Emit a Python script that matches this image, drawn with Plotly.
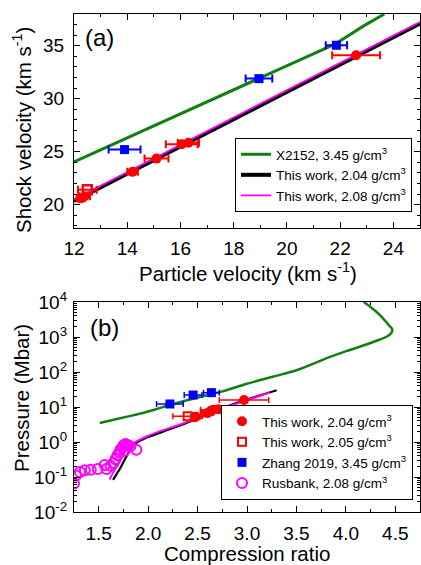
import plotly.graph_objects as go

# ---------------- Panel (a): Us - up ----------------
a_x2152_up = [12, 14, 16, 19, 21.8, 22.9, 23.66]
a_x2152_us = [24.05, 26.3, 28.6, 31.95, 35.15, 36.9, 38.0]
a_fit204_up = [12, 25]
a_fit204_us = [20.35, 37.1]
a_fit208_up = [12, 25]
a_fit208_us = [20.5, 37.25]

a_tw204_up = [12.25, 12.4, 14.2, 15.1, 16.05, 16.3, 22.6]
a_tw204_us = [20.6, 20.8, 23.1, 24.35, 25.7, 25.85, 34.1]
a_tw204_err = [0.15, 0.2, 0.2, 0.45, 0.6, 0.4, 0.9]
a_tw205_up = [12.5]
a_tw205_us = [21.4]
a_tw205_err = [0.35]
a_zhang_up = [13.9, 18.95, 21.86]
a_zhang_us = [25.2, 31.9, 35.05]
a_zhang_err = [0.6, 0.5, 0.4]

# ---------------- Panel (b): P - compression ----------------
b_x2152_eta = [1.51, 1.75, 2.0, 2.2, 2.5, 2.75, 3.0, 3.25, 3.5, 3.84, 4.01, 4.2, 4.33, 4.42,
               4.46, 4.47, 4.44, 4.35, 4.25, 4.18]
b_x2152_p = [3.5, 5.0, 7.4, 11, 18.6, 28, 46, 72, 112, 270, 400, 600, 820, 1050,
             1300, 1650, 2100, 4100, 7200, 10000]
b_fit204_eta = [1.645, 1.68, 1.713, 1.76, 1.82, 1.88, 1.95, 2.02, 2.25, 2.46, 2.66, 2.93, 3.3]
b_fit204_p = [0.083, 0.12, 0.17, 0.3, 0.6, 0.95, 1.2, 1.45, 2.5, 4.2, 7.2, 14, 30]
b_fit208_eta = [1.61, 1.65, 1.7, 1.75, 1.8, 1.86, 1.95, 2.1, 2.3, 2.5, 2.7, 2.95, 3.23]
b_fit208_p = [0.085, 0.14, 0.25, 0.45, 0.7, 0.95, 1.3, 1.95, 3.0, 4.8, 8.0, 14, 26]

b_tw204_eta = [2.47, 2.48, 2.60, 2.63, 2.66, 2.71, 2.97]
b_tw204_p = [5.1, 5.3, 6.7, 7.5, 8.4, 8.6, 15.8]
b_tw204_err = [0.04, 0.05, 0.06, 0.1, 0.13, 0.1, 0.25]
b_tw205_eta = [2.4]
b_tw205_p = [5.4]
b_tw205_err = [0.15]
b_zhang_eta = [2.22, 2.455, 2.64]
b_zhang_p = [12.2, 22, 25.7]
b_zhang_err = [0.135, 0.09, 0.08]
b_rus_eta = [1.25, 1.27, 1.31, 1.36, 1.42, 1.49, 1.56, 1.58, 1.62, 1.65, 1.67, 1.69, 1.71,
             1.72, 1.74, 1.75, 1.77, 1.78, 1.8, 1.82, 1.76, 1.88]
b_rus_p = [0.065, 0.11, 0.14, 0.155, 0.16, 0.17, 0.22, 0.17, 0.21, 0.25, 0.32, 0.42, 0.5,
           0.6, 0.7, 0.8, 0.88, 0.85, 0.8, 0.75, 0.55, 0.6]

b_ytickvals = [0.01, 0.1, 1, 10, 100, 1000, 10000]
b_yticktext = ["10<sup>-2</sup>", "10<sup>-1</sup>", "10<sup>0</sup>", "10<sup>1</sup>",
               "10<sup>2</sup>", "10<sup>3</sup>", "10<sup>4</sup>"]

RED = "#ff0000"
BLUE = "#0000ff"
GREEN = "#118011"
MAG = "#ff00ff"
FONT = "Liberation Sans, Arial, sans-serif"

W, H = 421, 565
fig = go.Figure()

# ---- (a) traces ----
fig.add_trace(go.Scatter(x=a_x2152_up, y=a_x2152_us, mode="lines", line=dict(color=GREEN, width=3),
                         name="X2152, 3.45 g/cm<sup>3</sup>", legend="legend", xaxis="x", yaxis="y"))
fig.add_trace(go.Scatter(x=a_fit204_up, y=a_fit204_us, mode="lines", line=dict(color="black", width=4),
                         name="This work, 2.04 g/cm<sup>3</sup>", legend="legend", xaxis="x", yaxis="y"))
fig.add_trace(go.Scatter(x=a_fit208_up, y=a_fit208_us, mode="lines", line=dict(color=MAG, width=1.8),
                         name="This work, 2.08 g/cm<sup>3</sup>", legend="legend", xaxis="x", yaxis="y"))
fig.add_trace(go.Scatter(x=a_zhang_up, y=a_zhang_us, mode="markers", showlegend=False,
                         marker=dict(symbol="square", size=9, color=BLUE),
                         error_x=dict(type="data", array=a_zhang_err, color=BLUE, thickness=2, width=4),
                         xaxis="x", yaxis="y"))
fig.add_trace(go.Scatter(x=a_tw205_up, y=a_tw205_us, mode="markers", showlegend=False,
                         marker=dict(symbol="square-open", size=9, color=RED, line=dict(width=2.5)),
                         error_x=dict(type="data", array=a_tw205_err, color=RED, thickness=2, width=4),
                         xaxis="x", yaxis="y"))
fig.add_trace(go.Scatter(x=a_tw204_up, y=a_tw204_us, mode="markers", showlegend=False,
                         marker=dict(symbol="circle", size=10, color=RED),
                         error_x=dict(type="data", array=a_tw204_err, color=RED, thickness=2, width=4),
                         xaxis="x", yaxis="y"))

# ---- (b) traces ----
fig.add_trace(go.Scatter(x=b_x2152_eta, y=b_x2152_p, mode="lines", line=dict(color=GREEN, width=2.5),
                         line_shape="spline", showlegend=False, xaxis="x2", yaxis="y2"))
fig.add_trace(go.Scatter(x=b_fit204_eta, y=b_fit204_p, mode="lines", line=dict(color="black", width=2.2),
                         line_shape="spline", showlegend=False, xaxis="x2", yaxis="y2"))
fig.add_trace(go.Scatter(x=b_fit208_eta, y=b_fit208_p, mode="lines", line=dict(color=MAG, width=2),
                         line_shape="spline", showlegend=False, xaxis="x2", yaxis="y2"))
fig.add_trace(go.Scatter(x=b_zhang_eta, y=b_zhang_p, mode="markers",
                         name="Zhang 2019, 3.45 g/cm<sup>3</sup>", legend="legend2", legendrank=3,
                         marker=dict(symbol="square", size=9, color=BLUE),
                         error_x=dict(type="data", array=b_zhang_err, color=BLUE, thickness=1.5, width=3),
                         xaxis="x2", yaxis="y2"))
fig.add_trace(go.Scatter(x=b_tw205_eta, y=b_tw205_p, mode="markers",
                         name="This work, 2.05 g/cm<sup>3</sup>", legend="legend2", legendrank=2,
                         marker=dict(symbol="square-open", size=8, color=RED, line=dict(width=2)),
                         error_x=dict(type="data", array=b_tw205_err, color=RED, thickness=1.5, width=3),
                         xaxis="x2", yaxis="y2"))
fig.add_trace(go.Scatter(x=b_tw204_eta, y=b_tw204_p, mode="markers",
                         name="This work, 2.04 g/cm<sup>3</sup>", legend="legend2", legendrank=1,
                         marker=dict(symbol="circle", size=10, color=RED),
                         error_x=dict(type="data", array=b_tw204_err, color=RED, thickness=1.5, width=3),
                         xaxis="x2", yaxis="y2"))
fig.add_trace(go.Scatter(x=b_rus_eta, y=b_rus_p, mode="markers",
                         name="Rusbank, 2.08 g/cm<sup>3</sup>", legend="legend2", legendrank=4,
                         marker=dict(symbol="circle-open", size=10, color=MAG, line=dict(width=2)),
                         xaxis="x2", yaxis="y2"))

xd = [74 / W, 420 / W]
ya = [1 - 228 / H, 1 - 14 / H]
yb = [1 - 512 / H, 1 - 302 / H]

axis_common = dict(showline=True, linecolor="black", linewidth=1.3, mirror="allticks",
                   ticks="inside", ticklen=6, tickwidth=1.2, tickcolor="black",
                   showgrid=False, zeroline=False, automargin=False,
                   tickfont=dict(family=FONT, size=19, color="black"))

fig.update_layout(
    width=W, height=H, margin=dict(l=0, r=0, t=0, b=0),
    paper_bgcolor="white", plot_bgcolor="white",
    font=dict(family=FONT, color="black"),
    xaxis=dict(domain=xd, anchor="y", range=[12, 25], dtick=2, tick0=12,
               minor=dict(ticks="inside", ticklen=3, dtick=1, tickcolor="black"),
               ticklabelstandoff=3, **axis_common),
    yaxis=dict(domain=ya, anchor="x", range=[17.8, 38], dtick=5, tick0=20,
               minor=dict(ticks="inside", ticklen=3, dtick=1, tickcolor="black"),
               ticklabelstandoff=5, **axis_common),
    xaxis2=dict(domain=xd, anchor="y2", range=[1.25, 4.75], dtick=0.5, tick0=1.5,
                tickformat=".1f",
                minor=dict(ticks="inside", ticklen=3, dtick=0.25, tickcolor="black"),
                ticklabelstandoff=4, **axis_common),
    yaxis2=dict(domain=yb, anchor="x2", type="log", range=[-2, 4],
                tickmode="array", tickvals=b_ytickvals, ticktext=b_yticktext,
                minor=dict(ticks="inside", ticklen=3, dtick="D1", tickcolor="black"),
                ticklabelstandoff=2, **axis_common),
    legend=dict(x=412 / W, y=1 - 212 / H, xanchor="right", yanchor="bottom",
                bordercolor="black", borderwidth=1, bgcolor="white",
                font=dict(family=FONT, size=13.5, color="black"),
                tracegroupgap=0, itemwidth=30),
    legend2=dict(x=413 / W, y=1 - 500 / H, xanchor="right", yanchor="bottom",
                 bordercolor="black", borderwidth=1, bgcolor="white",
                 font=dict(family=FONT, size=13.5, color="black"),
                 tracegroupgap=0, itemwidth=30),
    annotations=[
        dict(text="(a)", x=83 / W, y=1 - 38 / H, xref="paper", yref="paper",
             xanchor="left", yanchor="middle", showarrow=False, font=dict(family=FONT, size=24)),
        dict(text="(b)", x=88 / W, y=1 - 327 / H, xref="paper", yref="paper",
             xanchor="left", yanchor="middle", showarrow=False, font=dict(family=FONT, size=24)),
        dict(text="Particle velocity (km s<sup>-1</sup>)", x=248 / W, y=1 - 272 / H,
             xref="paper", yref="paper", xanchor="center", yanchor="middle", showarrow=False,
             font=dict(family=FONT, size=20.5)),
        dict(text="Shock velocity (km s<sup>-1</sup>)", x=22 / W, y=1 - 130 / H, textangle=-90,
             xref="paper", yref="paper", xanchor="center", yanchor="middle", showarrow=False,
             font=dict(family=FONT, size=20.5)),
        dict(text="Compression ratio", x=247 / W, y=1 - 553 / H,
             xref="paper", yref="paper", xanchor="center", yanchor="middle", showarrow=False,
             font=dict(family=FONT, size=20.5)),
        dict(text="Pressure (Mbar)", x=21 / W, y=1 - 398 / H, textangle=-90,
             xref="paper", yref="paper", xanchor="center", yanchor="middle", showarrow=False,
             font=dict(family=FONT, size=20.5)),
    ],
)

fig.write_html("out.html")
